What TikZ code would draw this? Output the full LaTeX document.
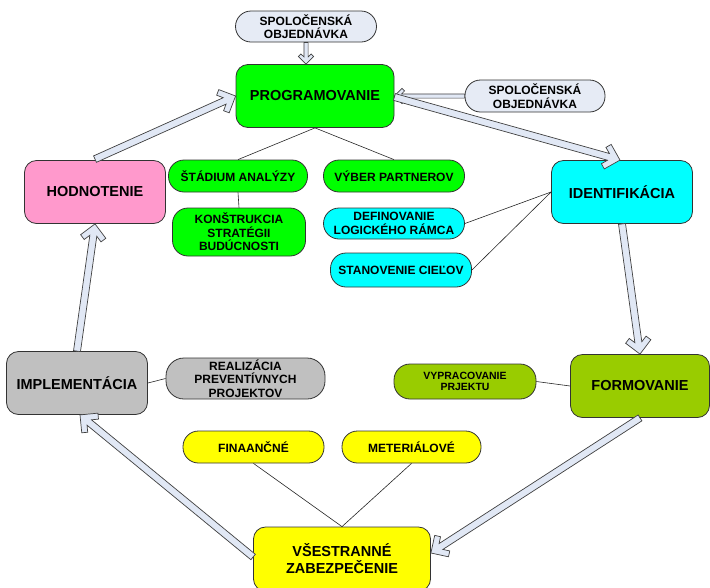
\documentclass[tikz,border=0pt]{standalone}
\usepackage{fontspec}
\setmainfont{Liberation Sans}
\usetikzlibrary{calc}
\definecolor{lav}{HTML}{E6EBF5}
\definecolor{arrfill}{HTML}{E1E8F5}
\definecolor{cgreen}{HTML}{00FF00}
\definecolor{cpink}{HTML}{FF99CC}
\definecolor{ccyan}{HTML}{00FFFF}
\definecolor{cgray}{HTML}{C0C0C0}
\definecolor{colive}{HTML}{99CC00}
\definecolor{cyellow}{HTML}{FFFF00}
\newcommand\blockarrow[3][1]{%
  \pgfmathsetlengthmacro\bsa{3.5pt*#1}%
  \pgfmathsetlengthmacro\bsb{12.5pt*#1}%
  \pgfmathsetlengthmacro\bsc{18.97pt*#1}%
  \pgfmathsetlengthmacro\bsd{18pt*#1}%
  \draw[barrow] ($(#2)!\bsa!90:(#3)$) -- ($(#3)!\bsb!-16.26:(#2)$)
    -- ($(#3)!\bsc!-26.57:(#2)$) -- ($(#3)!\bsd!-45:(#2)$) -- (#3)
    -- ($(#3)!\bsd!45:(#2)$) -- ($(#3)!\bsc!26.57:(#2)$)
    -- ($(#3)!\bsb!16.26:(#2)$) -- ($(#2)!\bsa!-90:(#3)$) -- cycle;}
\begin{document}
\begin{tikzpicture}[x=1pt,y=-1pt,
 box/.style={draw=black!80, line width=0.8pt, rounded corners=12pt, align=center,
   font=\fontsize{14.5}{17}\selectfont\bfseries, inner sep=0pt, minimum width=141pt, minimum height=63pt},
 pill/.style={draw=black!80, line width=0.8pt, rounded corners=15.5pt, align=center,
   font=\fontsize{12}{13.5}\selectfont\bfseries, inner sep=0pt, minimum width=141pt, minimum height=32pt},
 link/.style={draw=black!85, line width=0.6pt},
 barrow/.style={draw=black!75, line width=0.7pt, fill=arrfill, line join=miter}
]
\useasboundingbox (0,0) rectangle (710,587);

% main boxes
\node[box, fill=cgreen, minimum width=158pt] (prog) at (315,96) {PROGRAMOVANIE};
\node[box, fill=cpink] (hodn) at (95,192) {HODNOTENIE};
\node[box, fill=ccyan] (ident) at (622,192) {IDENTIFIKÁCIA};
\node[box, fill=cgray] (impl) at (77,383) {IMPLEMENTÁCIA};
\node[box, fill=colive, minimum width=139pt] (form) at (640,386) {FORMOVANIE};
\node[box, fill=cyellow, minimum width=177pt, minimum height=64pt] (vsestr) at (342,559) {VŠESTRANNÉ\\ZABEZPEČENIE};

% side boxes
\node[pill, fill=lav, minimum height=31pt] (spol1) at (306,26.5) {SPOLOČENSKÁ\\OBJEDNÁVKA};
\node[pill, fill=lav, minimum width=140pt] (spol2) at (535,96) {SPOLOČENSKÁ\\OBJEDNÁVKA};
\node[pill, fill=cgreen, minimum width=139pt] (stad) at (238,176) {ŠTÁDIUM ANALÝZY};
\node[pill, fill=cgreen] (vyber) at (394,176) {VÝBER PARTNEROV};
\node[pill, fill=cgreen, minimum width=133pt, minimum height=48pt] (konst) at (239,232) {KONŠTRUKCIA\\STRATÉGII\\BUDÚCNOSTI};
\node[pill, fill=ccyan, minimum height=31pt] (defin) at (394,223.5) {DEFINOVANIE\\LOGICKÉHO RÁMCA};
\node[pill, fill=ccyan, minimum height=34pt] (stan) at (401,270) {STANOVENIE CIEĽOV};
\node[pill, fill=cgray, minimum width=159pt, minimum height=41pt, rounded corners=18pt] (real) at (245.5,378.5) {REALIZÁCIA\\PREVENTÍVNYCH\\PROJEKTOV};
\node[pill, fill=colive, minimum width=142pt, minimum height=35pt, rounded corners=16pt,
   font=\fontsize{10.5}{11.7}\selectfont\bfseries] (vypr) at (465,381.5) {VYPRACOVANIE\\PRJEKTU};
\node[pill, fill=cyellow] (fin) at (253.5,447) {FINAANČNÉ};
\node[pill, fill=cyellow, minimum width=139pt] (met) at (411.5,447) {METERIÁLOVÉ};

% thin connectors
\draw[link] (prog.south) -- (stad.north);
\draw[link] (prog.south) -- (vyber.north);
\draw[link] (stad.south) -- (konst.north);
\draw[link] (ident.west) -- (defin.east);
\draw[link] (ident.west) -- (stan.east);
\draw[link] (impl.east) -- (real.west);
\draw[link] (form.west) -- (vypr.east);
\draw[link] (vsestr.north) -- (fin.south);
\draw[link] (vsestr.north) -- (met.south);

% block arrows
\coordinate (a1s) at (spol1.south);
\coordinate (a1e) at (spol1.south |- prog.north);
\blockarrow[0.6]{a1s}{a1e}
\blockarrow[0.6]{spol2.west}{prog.east}
\coordinate (a3s) at ([yshift=-1pt]prog.east);
\coordinate (a3e) at ([xshift=-2pt]ident.north);
\blockarrow{a3s}{a3e}
\coordinate (a4s) at ([yshift=1pt]hodn.north);
\blockarrow{a4s}{prog.west}
\blockarrow{ident.south}{form.north}
\coordinate (a6e) at ([yshift=6pt]vsestr.east);
\blockarrow{form.south}{a6e}
\coordinate (a7s) at ([yshift=2pt]vsestr.west);
\coordinate (a7e) at ([xshift=3pt]impl.south);
\blockarrow{a7s}{a7e}
\blockarrow{impl.north}{hodn.south}
\end{tikzpicture}
\end{document}
